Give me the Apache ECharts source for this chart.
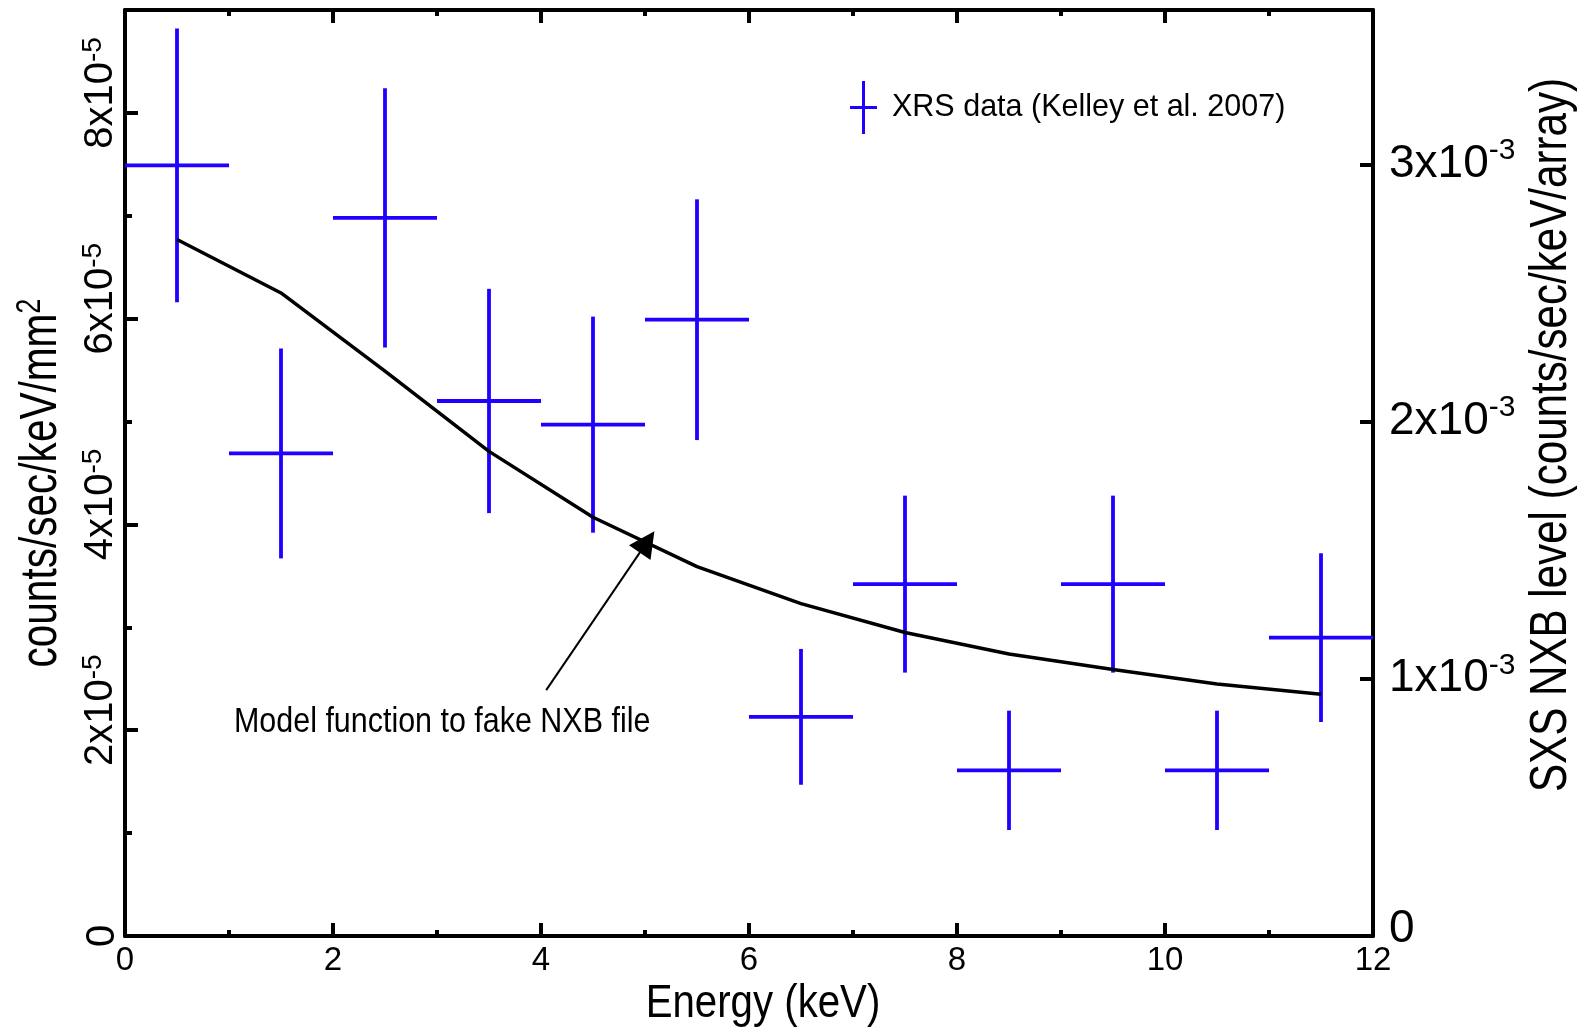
<!DOCTYPE html>
<html>
<head>
<meta charset="utf-8">
<title>XRS data and NXB model</title>
<script src="https://cdn.jsdelivr.net/npm/echarts@6.0.0/dist/echarts.min.js"></script>
<style>
  html, body { margin: 0; padding: 0; background: #fff; }
  #main { width: 1586px; height: 1030px; }
</style>
</head>
<body>
<div id="main"></div>
<script>
// energy bins (keV)
var energy = [0.5, 1.5, 2.5, 3.5, 4.5, 5.5, 6.5, 7.5, 8.5, 9.5, 10.5, 11.5];
var binHalfWidth = [0.5, 0.5, 0.5, 0.5, 0.5, 0.5, 0.5, 0.5, 0.5, 0.5, 0.5, 0.5];

// XRS data, in units of 1e-5 counts/sec/keV/mm2
var xrsRate = [7.49, 4.69, 6.98, 5.20, 4.97, 5.99, 2.13, 3.42, 1.61, 3.42, 1.61, 2.90];
var xrsErr  = [1.33, 1.02, 1.26, 1.09, 1.05, 1.17, 0.66, 0.86, 0.58, 0.86, 0.58, 0.82];

// model used for the fake NXB file, same units
var modelRate = [6.77, 6.25, 5.49, 4.71, 4.07, 3.59, 3.23, 2.95, 2.74, 2.59, 2.45, 2.35];

// axis tick exponents
var leftExp = '-5';
var rightExp = '-3';

// annotation arrow (data units)
var arrowFrom = [4.05, 2.39];
var arrowTo = [5.02, 3.83];

var blue = '#2000ff';
var narrow = "'Liberation Sans Narrow', 'Arial Narrow', 'Liberation Sans', sans-serif";
var sans = "'Liberation Sans', Arial, sans-serif";

var xrsData = [];
for (var i = 0; i < energy.length; i++) {
    xrsData.push([energy[i], xrsRate[i], xrsErr[i], binHalfWidth[i]]);
}
var modelData = [];
for (var j = 0; j < energy.length; j++) {
    modelData.push([energy[j], modelRate[j]]);
}

function renderErr(params, api) {
    var x = api.value(0), y = api.value(1), e = api.value(2), h = api.value(3);
    var l = api.coord([x - h, y]);
    var r = api.coord([x + h, y]);
    var t = api.coord([x, y + e]);
    var b = api.coord([x, y - e]);
    var st = { stroke: blue, lineWidth: 3.8 };
    return {
        type: 'group',
        children: [
            { type: 'line', shape: { x1: l[0], y1: l[1], x2: r[0], y2: r[1] }, style: st },
            { type: 'line', shape: { x1: t[0], y1: t[1], x2: b[0], y2: b[1] }, style: st }
        ]
    };
}

var black = { color: '#000', width: 4 };

var myChart = echarts.init(document.getElementById('main'));
var option = {
    animation: false,
    backgroundColor: '#fff',
    grid: { left: 125, right: 213, top: 10, bottom: 94, outerBoundsMode: 'none' },
    legend: {
        left: 845,
        top: 76,
        itemWidth: 27,
        itemHeight: 53,
        data: [{ name: 'XRS data (Kelley et al. 2007)', icon: 'path://M0,25h27v3h-27z M12,0h3v53h-3z' }],
        itemStyle: { color: blue, borderWidth: 0 },
        textStyle: { fontSize: 30.5, fontFamily: sans, color: '#000', padding: [0, 0, 0, 10] }
    },
    xAxis: [{
        type: 'value', position: 'bottom', min: 0, max: 12, interval: 2,
        axisLine: { onZero: false, lineStyle: black },
        axisTick: { inside: true, length: 13, lineStyle: black },
        minorTick: { show: true, splitNumber: 2, length: 6, lineStyle: black },
        splitLine: { show: false },
        axisLabel: { fontSize: 33, fontFamily: sans, color: '#000', margin: 8 }
    }, {
        type: 'value', position: 'top', min: 0, max: 12, interval: 2,
        axisLine: { onZero: false, lineStyle: black },
        axisTick: { inside: true, length: 13, lineStyle: black },
        minorTick: { show: true, splitNumber: 2, length: 6, lineStyle: black },
        splitLine: { show: false },
        axisLabel: { show: false }
    }],
    yAxis: [{
        type: 'value', position: 'left', min: 0, max: 9, interval: 2,
        axisLine: { onZero: false, lineStyle: black },
        axisTick: { inside: true, length: 13, lineStyle: black },
        splitLine: { show: false },
        axisLabel: {
            rotate: 90, margin: 2, color: '#000', fontSize: 40, fontFamily: narrow,
            showMaxLabel: false,
            formatter: function (v) {
                if (v === 0) return '0';
                return '{p|}{a|' + Math.round(v) + 'x10}{b|' + leftExp + '}';
            },
            rich: {
                p: { width: 40 },
                a: { fontSize: 40, lineHeight: 44, fontFamily: narrow, color: '#000' },
                b: { fontSize: 28, lineHeight: 28, padding: [0, 0, 16, 0], fontFamily: narrow, color: '#000' }
            }
        }
    }, {
        type: 'value', position: 'right', min: 0, max: 3.6, interval: 1,
        axisLine: { onZero: false, lineStyle: black },
        axisTick: { inside: true, length: 13, lineStyle: black },
        splitLine: { show: false },
        axisLabel: {
            margin: 16, color: '#000', fontSize: 46, fontFamily: narrow,
            showMaxLabel: false,
            formatter: function (v) {
                if (v === 0) return '{z|0}';
                return '{a|' + Math.round(v) + 'x10}{b|' + rightExp + '}';
            },
            rich: {
                z: { fontSize: 46, lineHeight: 46, padding: [0, 0, 14, 0], fontFamily: narrow, color: '#000' },
                a: { fontSize: 46, lineHeight: 46, fontFamily: narrow, color: '#000' },
                b: { fontSize: 30, lineHeight: 30, padding: [0, 0, 27, 0], fontFamily: narrow, color: '#000' }
            }
        }
    }, {
        // minor ticks of the left axis
        type: 'value', position: 'left', min: 0, max: 9, interval: 1,
        axisLine: { show: false, onZero: false },
        axisTick: { inside: true, length: 7, lineStyle: black },
        splitLine: { show: false },
        axisLabel: { show: false }
    }],
    series: [{
        name: 'XRS data (Kelley et al. 2007)',
        type: 'custom',
        xAxisIndex: 0, yAxisIndex: 0,
        renderItem: renderErr,
        itemStyle: { color: blue },
        encode: { x: 0, y: 1 },
        data: xrsData,
        z: 2
    }, {
        name: 'model',
        type: 'line',
        xAxisIndex: 0, yAxisIndex: 0,
        showSymbol: false,
        symbol: 'none',
        lineStyle: { color: '#000', width: 3.5 },
        data: modelData,
        z: 3,
        markLine: {
            silent: true,
            symbol: ['none', 'path://M0,0L7,20L-7,20Z'],
            symbolSize: 26,
            label: { show: false },
            lineStyle: { color: '#000', width: 2, type: 'solid' },
            itemStyle: { color: '#000' },
            data: [[{ coord: arrowFrom }, { coord: arrowTo }]]
        }
    }],
    graphic: [{
        type: 'text', x: 234, y: 722, scaleX: 0.87,
        style: { text: 'Model function to fake NXB file', font: "35px 'Liberation Sans', Arial, sans-serif",
            fill: '#000', textAlign: 'left', textVerticalAlign: 'middle', align: 'left', verticalAlign: 'middle' }
    }, {
        type: 'text', x: 763, y: 1004, scaleX: 0.874,
        style: { text: 'Energy (keV)', font: "46px 'Liberation Sans', Arial, sans-serif",
            fill: '#000', textAlign: 'center', textVerticalAlign: 'middle', align: 'center', verticalAlign: 'middle' }
    }, {
        type: 'text', x: 42, y: 483, rotation: Math.PI / 2, scaleX: 0.78,
        style: { text: 'counts/sec/keV/mm{s|2}', font: "52px 'Liberation Sans', Arial, sans-serif",
            fill: '#000', textAlign: 'center', textVerticalAlign: 'middle', align: 'center', verticalAlign: 'middle',
            rich: { s: { fontSize: 35, lineHeight: 35, padding: [0, 0, 23, 0], fontFamily: sans, fill: '#000' } } }
    }, {
        type: 'text', x: 1552, y: 435, rotation: Math.PI / 2, scaleX: 0.81,
        style: { text: 'SXS NXB level (counts/sec/keV/array)', font: "52px 'Liberation Sans', Arial, sans-serif",
            fill: '#000', textAlign: 'center', textVerticalAlign: 'middle', align: 'center', verticalAlign: 'middle' }
    }]
};
myChart.setOption(option);
window.addEventListener('resize', function () {
    myChart.resize();
});
</script>
</body>
</html>
